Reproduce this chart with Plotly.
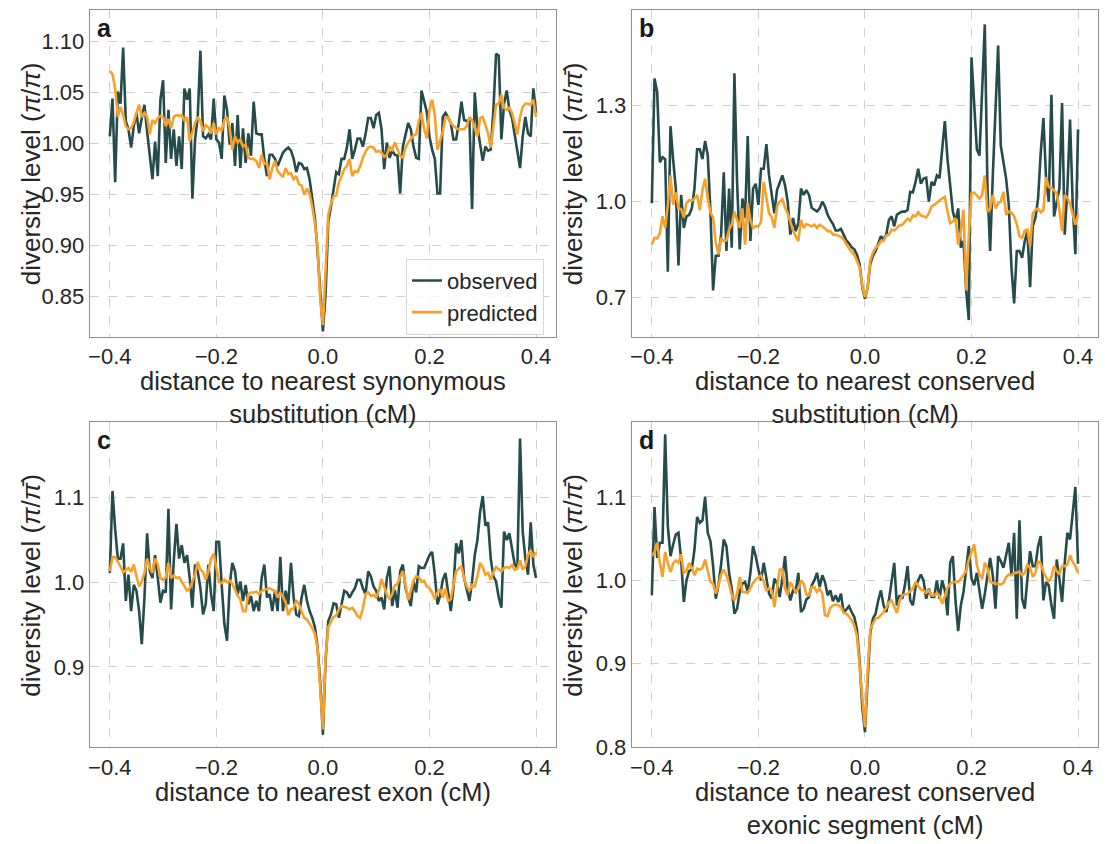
import numpy as np
import plotly.graph_objects as go

# distance grid (cM), 0.005 cM bins from -0.4 to 0.4
dist = np.round(np.linspace(-0.4, 0.4, 161), 4)

# a: synonymous substitutions
obs_a = [
    1.007, 1.044, 0.962, 1.051, 1.039, 1.094, 1.022, 1.014, 0.996, 1.017,
    1.030, 1.010, 1.025, 1.038, 1.012, 0.985, 0.965, 1.002, 0.968, 1.043,
    1.062, 0.981, 1.033, 0.985, 1.014, 0.978, 1.007, 0.975, 1.054, 1.043,
    1.054, 0.946, 1.004, 1.026, 1.091, 1.007, 1.005, 1.009, 1.004, 1.044,
    1.004, 1.001, 0.985, 1.047, 1.033, 0.999, 1.020, 0.978, 1.028, 0.976,
    1.015, 0.981, 1.010, 0.988, 1.041, 1.010, 1.009, 1.009, 0.985, 0.968,
    0.989, 0.989, 0.985, 0.978, 0.985, 0.991, 0.994, 0.996, 0.993, 0.985,
    0.972, 0.981, 0.980, 0.975, 0.976, 0.965, 0.946, 0.927, 0.894, 0.853,
    0.816,
    0.853, 0.923, 0.938, 0.956, 0.972, 0.970, 0.985, 0.985, 0.996, 1.014,
    0.985, 0.994, 1.005, 1.005, 0.997, 1.009, 1.025, 1.025, 1.015, 1.028,
    1.030, 1.014, 0.975, 1.001, 0.986, 0.993, 0.989, 0.988, 0.951, 0.997,
    1.009, 1.020, 1.014, 0.997, 0.986, 0.985, 1.052, 1.041, 1.031, 1.007,
    0.994, 0.985, 0.951, 0.951, 1.026, 1.030, 1.026, 1.020, 1.004, 1.004,
    1.020, 1.041, 1.023, 1.022, 1.023, 0.936, 1.050, 1.016, 1.001, 0.983,
    0.997, 0.993, 0.994, 1.033, 1.088, 1.086, 1.004, 1.039, 1.052, 1.033,
    1.025, 1.007, 0.994, 0.976, 1.007, 1.026, 1.010, 1.007, 1.054, 1.030,
]
pred_a = [
    1.071, 1.068, 1.054, 1.026, 1.036, 1.028, 1.017, 1.014, 1.015, 1.021,
    1.030, 1.038, 1.026, 1.030, 1.026, 1.009, 1.023, 1.020, 1.025, 1.027,
    1.026, 1.017, 1.024, 1.015, 1.026, 1.028, 1.027, 1.028, 1.022, 1.026,
    1.002, 1.012, 1.020, 1.026, 1.022, 1.012, 1.018, 1.016, 1.010, 1.020,
    1.009, 1.016, 1.012, 1.023, 1.026, 1.015, 0.994, 1.007, 1.001, 1.004,
    0.997, 0.999, 0.986, 0.985, 0.985, 0.983, 0.976, 0.989, 0.980, 0.981,
    0.965, 0.976, 0.983, 0.973, 0.970, 0.967, 0.976, 0.970, 0.971, 0.965,
    0.968, 0.960, 0.959, 0.950, 0.956, 0.951, 0.938, 0.922, 0.898, 0.846,
    0.822,
    0.872, 0.930, 0.941, 0.948, 0.949, 0.962, 0.968, 0.975, 0.978, 0.985,
    0.968, 0.973, 0.972, 0.978, 0.986, 0.992, 0.996, 0.997, 0.996, 0.992,
    0.993, 0.991, 0.987, 0.989, 0.997, 0.994, 1.001, 0.994, 0.988, 0.986,
    0.996, 1.001, 1.005, 1.008, 1.009, 1.022, 1.030, 1.014, 1.005, 1.033,
    1.043, 1.028, 0.994, 1.002, 1.012, 1.025, 1.026, 1.020, 1.017, 1.015,
    1.014, 1.014, 1.014, 1.017, 1.026, 1.023, 1.014, 1.007, 1.025, 1.026,
    1.018, 1.010, 0.996, 1.017, 1.038, 1.039, 1.048, 1.035, 1.033, 1.035,
    1.030, 1.020, 1.009, 1.026, 1.036, 1.039, 1.039, 1.038, 1.043, 1.026,
]

# b: conserved substitutions
obs_b = [
    0.994, 1.384, 1.343, 1.122, 1.138, 1.132, 0.780, 1.235, 1.130, 1.040,
    0.800, 1.020, 0.917, 0.953, 0.958, 0.978, 1.040, 1.163, 1.163, 1.132,
    1.189, 1.143, 0.968, 0.722, 0.830, 0.830, 0.896, 1.091, 0.845, 1.040,
    0.855, 1.400, 1.060, 0.850, 1.009, 0.948, 1.204, 0.876, 1.040, 1.055,
    0.989, 1.102, 1.102, 1.179, 1.081, 1.025, 0.963, 1.035, 1.061, 1.081,
    1.050, 0.999, 0.896, 0.948, 0.907, 0.932, 1.040, 1.020, 1.035, 1.020,
    0.980, 0.973, 0.968, 0.978, 0.999, 0.984, 0.958, 0.942, 0.929, 0.909,
    0.909, 0.914, 0.896, 0.878, 0.869, 0.857, 0.850, 0.833, 0.804, 0.732,
    0.696,
    0.730, 0.804, 0.830, 0.845, 0.871, 0.891, 0.881, 0.896, 0.942, 0.953,
    0.922, 0.958, 0.964, 0.968, 0.968, 0.973, 1.030, 1.028, 1.061, 1.102,
    1.055, 1.071, 1.074, 0.999, 1.061, 1.050, 1.081, 1.073, 1.163, 1.251,
    1.132, 1.045, 0.968, 0.937, 0.978, 0.855, 0.876, 0.722, 0.629, 1.450,
    1.307, 1.163, 1.143, 1.328, 1.553, 1.040, 0.845, 1.081, 1.307, 1.487,
    1.174, 1.122, 1.071, 0.989, 0.794, 0.681, 0.845, 0.845, 0.824, 0.876,
    0.907, 0.732, 0.922, 0.948, 1.009, 1.153, 1.260, 1.071, 0.999, 1.333,
    0.953, 0.999, 1.040, 1.307, 0.896, 1.040, 1.256, 0.989, 0.835, 1.225,
]
pred_b = [
    0.865, 0.886, 0.884, 0.901, 0.953, 0.917, 0.989, 1.081, 0.989, 1.028,
    0.978, 0.976, 0.950, 0.994, 1.004, 1.001, 1.009, 1.020, 0.973, 1.035,
    1.071, 1.009, 0.966, 0.950, 0.871, 0.835, 0.886, 0.876, 0.878, 0.912,
    0.927, 0.968, 0.942, 0.917, 0.978, 0.865, 0.994, 0.942, 0.917, 0.922,
    0.922, 0.937, 1.061, 1.004, 0.963, 0.950, 0.917, 0.984, 0.999, 1.007,
    0.980, 0.963, 0.932, 0.909, 0.891, 0.876, 0.942, 0.917, 0.929, 0.925,
    0.922, 0.927, 0.917, 0.927, 0.922, 0.915, 0.907, 0.907, 0.896, 0.896,
    0.893, 0.889, 0.881, 0.865, 0.853, 0.843, 0.833, 0.814, 0.794, 0.737,
    0.701,
    0.732, 0.814, 0.840, 0.855, 0.862, 0.876, 0.876, 0.893, 0.896, 0.912,
    0.909, 0.917, 0.925, 0.927, 0.937, 0.946, 0.940, 0.956, 0.953, 0.966,
    0.956, 0.953, 0.950, 0.963, 0.984, 0.989, 0.997, 1.003, 1.009, 1.014,
    0.968, 0.932, 0.937, 0.948, 0.865, 0.907, 0.973, 0.722, 0.896, 1.025,
    1.028, 1.020, 1.009, 1.020, 1.081, 0.968, 0.976, 1.020, 0.978, 0.994,
    0.999, 1.030, 0.958, 0.968, 0.965, 0.953, 0.929, 0.891, 0.886, 0.909,
    0.912, 0.860, 0.962, 0.973, 0.978, 0.966, 0.973, 1.076, 1.045, 1.042,
    1.035, 1.025, 0.973, 0.907, 1.020, 1.011, 0.991, 0.960, 0.927, 0.958,
]

# c: exons
obs_c = [
    1.011, 1.108, 1.063, 1.028, 1.028, 1.046, 0.978, 1.009, 0.966, 0.997,
    0.990, 0.966, 0.927, 0.982, 1.058, 1.013, 1.005, 1.032, 1.005, 0.976,
    0.990, 0.988, 1.087, 0.968, 1.025, 1.069, 1.028, 1.044, 1.023, 1.032,
    1.005, 0.970, 1.021, 1.013, 0.993, 0.962, 0.974, 1.021, 0.986, 0.966,
    1.048, 1.048, 0.997, 0.951, 0.931, 0.997, 1.023, 1.013, 0.986, 1.001,
    0.978, 0.997, 0.974, 0.984, 0.966, 0.978, 0.966, 1.005, 1.021, 0.982,
    0.986, 0.966, 0.990, 0.966, 1.030, 0.966, 0.990, 0.974, 1.023, 0.982,
    0.962, 0.960, 0.982, 0.997, 0.978, 0.966, 0.958, 0.947, 0.923, 0.881,
    0.820,
    0.908, 0.954, 0.962, 0.975, 0.974, 0.958, 0.974, 0.990, 0.988, 0.982,
    0.988, 0.993, 1.003, 1.003, 0.993, 0.986, 1.013, 1.007, 0.995, 0.990,
    0.978, 0.982, 0.968, 1.005, 1.019, 0.972, 0.991, 0.970, 1.013, 1.021,
    0.993, 0.982, 0.972, 1.001, 0.988, 1.019, 1.017, 1.017, 1.025, 1.032,
    1.036, 1.009, 0.974, 0.984, 1.003, 1.011, 0.988, 0.966, 0.993, 1.046,
    1.034, 1.050, 1.005, 0.993, 0.978, 1.001, 1.032, 1.050, 1.083, 1.102,
    1.067, 1.071, 1.028, 1.007, 1.001, 0.982, 0.970, 1.060, 1.050, 1.058,
    1.038, 1.021, 1.017, 1.170, 1.060, 1.028, 1.009, 1.071, 1.021, 1.005,
]
pred_c = [
    1.013, 1.030, 1.030, 1.025, 1.019, 1.012, 1.015, 1.017, 1.012, 1.021,
    1.007, 0.995, 1.001, 1.011, 1.028, 1.017, 1.011, 1.028, 1.021, 1.005,
    1.003, 1.006, 1.023, 1.005, 1.008, 1.005, 1.006, 1.001, 0.995, 0.990,
    0.993, 1.002, 1.009, 1.024, 1.015, 1.012, 1.003, 1.013, 1.028, 1.034,
    1.017, 1.000, 0.999, 1.003, 1.000, 1.002, 0.998, 0.990, 0.984, 0.980,
    0.966, 0.966, 0.986, 0.988, 0.988, 0.989, 0.986, 0.990, 0.991, 0.992,
    0.993, 0.991, 0.990, 0.982, 0.988, 0.983, 0.976, 0.961, 0.968, 0.969,
    0.979, 0.974, 0.966, 0.958, 0.956, 0.951, 0.946, 0.939, 0.921, 0.873,
    0.826,
    0.912, 0.947, 0.953, 0.959, 0.961, 0.968, 0.972, 0.971, 0.970, 0.968,
    0.970, 0.966, 0.960, 0.958, 0.969, 0.986, 0.988, 0.984, 0.985, 0.982,
    0.990, 1.004, 0.995, 0.986, 0.980, 0.986, 0.996, 0.998, 1.007, 1.013,
    0.997, 0.979, 0.990, 1.002, 1.007, 1.006, 1.001, 1.002, 0.995, 0.993,
    0.988, 0.980, 0.988, 0.992, 0.982, 0.993, 0.978, 0.980, 0.997, 1.013,
    1.016, 1.019, 1.005, 0.995, 0.990, 0.997, 0.995, 1.007, 1.023, 1.018,
    1.009, 1.011, 1.003, 1.012, 1.018, 1.015, 1.013, 1.017, 1.018, 1.017,
    1.020, 1.015, 1.016, 1.026, 1.015, 1.019, 1.032, 1.038, 1.030, 1.036,
]

# d: conserved exonic segments
obs_d = [
    0.982, 1.088, 1.027, 1.045, 1.045, 1.175, 1.065, 1.029, 1.043, 1.055,
    1.057, 1.025, 0.974, 1.000, 1.011, 1.013, 1.037, 1.076, 1.069, 1.072,
    1.100, 1.057, 1.047, 1.017, 0.978, 0.994, 1.019, 1.049, 1.041, 1.009,
    0.990, 0.960, 0.966, 0.986, 0.996, 0.998, 0.986, 1.009, 1.041, 1.029,
    1.013, 1.000, 1.021, 1.002, 0.984, 0.978, 1.002, 0.996, 0.980, 1.002,
    1.029, 0.990, 0.976, 0.988, 0.986, 1.009, 0.962, 0.966, 0.977, 0.980,
    0.994, 1.000, 1.009, 0.992, 1.006, 0.998, 0.982, 0.988, 0.975, 0.982,
    0.974, 0.984, 0.961, 0.965, 0.969, 0.962, 0.956, 0.941, 0.903, 0.848,
    0.818,
    0.879, 0.937, 0.954, 0.960, 0.976, 0.988, 0.970, 0.962, 0.976, 1.002,
    1.021, 0.970, 0.982, 0.978, 0.994, 1.017, 0.976, 0.970, 0.992, 1.000,
    1.007, 1.000, 0.978, 0.990, 0.980, 0.980, 1.000, 0.978, 1.000, 0.988,
    0.958, 1.021, 1.029, 0.976, 0.939, 0.970, 0.986, 1.013, 1.041, 1.002,
    0.994, 1.009, 0.990, 0.966, 0.984, 1.004, 1.027, 1.006, 0.966, 1.029,
    1.023, 1.015, 1.029, 1.045, 1.006, 1.057, 0.954, 1.072, 0.978, 0.966,
    1.002, 1.035, 1.017, 1.017, 1.041, 1.053, 0.976, 0.998, 0.994, 0.970,
    0.954, 1.025, 1.002, 0.974, 1.021, 1.057, 1.049, 1.084, 1.112, 1.020,
]
pred_d = [
    1.029, 1.034, 1.045, 1.021, 1.004, 1.034, 1.021, 1.010, 1.020, 1.024,
    1.021, 1.031, 1.009, 1.011, 1.021, 1.015, 1.006, 1.014, 1.013, 1.015,
    1.025, 1.011, 0.998, 0.996, 0.984, 0.994, 1.007, 1.013, 1.006, 0.996,
    0.982, 0.976, 0.984, 1.004, 0.986, 0.986, 0.985, 0.991, 0.997, 1.001,
    1.004, 1.006, 0.998, 0.987, 0.991, 0.988, 0.968, 0.988, 1.013, 1.013,
    0.990, 0.982, 0.998, 0.992, 0.986, 0.990, 1.000, 0.996, 0.983, 0.982,
    0.992, 0.992, 0.986, 0.990, 0.984, 0.958, 0.957, 0.967, 0.970, 0.971,
    0.970, 0.968, 0.961, 0.960, 0.957, 0.952, 0.946, 0.933, 0.895, 0.852,
    0.824,
    0.891, 0.941, 0.948, 0.954, 0.955, 0.958, 0.962, 0.967, 0.974, 0.976,
    0.969, 0.961, 0.976, 0.982, 0.983, 0.984, 0.987, 0.990, 0.998, 0.994,
    0.989, 0.988, 0.985, 0.988, 0.982, 0.982, 0.985, 0.981, 0.972, 0.981,
    0.991, 0.996, 0.998, 0.998, 0.998, 1.002, 1.006, 1.011, 1.025, 1.035,
    1.043, 1.019, 1.007, 1.002, 1.021, 1.015, 0.998, 0.997, 0.996, 0.996,
    0.995, 0.997, 1.004, 1.007, 1.006, 1.009, 1.009, 1.011, 1.006, 1.009,
    1.019, 1.015, 1.004, 1.009, 1.023, 1.020, 1.010, 1.004, 0.998, 1.004,
    1.017, 1.011, 1.007, 1.017, 1.017, 1.019, 1.030, 1.022, 1.017, 1.009,
]

x_ticks = [-0.4, -0.2, 0.0, 0.2, 0.4]
y_ticks_a = [0.85, 0.90, 0.95, 1.00, 1.05, 1.10]
y_ticks_b = [0.7, 1.0, 1.3]
y_ticks_c = [0.9, 1.0, 1.1]
y_ticks_d = [0.8, 0.9, 1.0, 1.1]

x_titles = [
    "distance to nearest synonymous<br>substitution (cM)",
    "distance to nearest conserved<br>substitution (cM)",
    "distance to nearest exon (cM)",
    "distance to nearest conserved<br>exonic segment (cM)",
]
y_titles = [
    "diversity level (<i>π</i>/<i>π</i>)",
    "diversity level (<i>π</i>/<i>π̄</i>)",
    "diversity level (<i>π</i>/<i>π̄</i>)",
    "diversity level (<i>π</i>/<i>π̄</i>)",
]
panel_letters = ["a", "b", "c", "d"]

OBS_COLOR = "#264b4b"
PRED_COLOR = "#f7a02a"
FONT = "Liberation Sans, Arial, sans-serif"
TEXT = "#262626"
W, H = 1107, 844

# plot-area boxes in pixels: (left, right, top, bottom)
boxes = [(88, 555, 10, 342), (631, 1098, 10, 342),
         (88, 555, 429, 759), (631, 1098, 429, 759)]
y_ranges = [[0.8107, 1.131], [0.577, 1.5985], [0.805, 1.189], [0.7998, 1.1894]]
y_ticks = [y_ticks_a, y_ticks_b, y_ticks_c, y_ticks_d]
y_formats = [".2f", ".1f", ".1f", ".1f"]
series = [(obs_a, pred_a), (obs_b, pred_b), (obs_c, pred_c), (obs_d, pred_d)]

fig = go.Figure()
layout = dict(
    width=W, height=H, margin=dict(l=0, r=0, t=0, b=0),
    paper_bgcolor="white", plot_bgcolor="white",
    font=dict(family=FONT, size=22, color=TEXT),
    showlegend=True,
)
annotations = []

for i, ((obs, pred), (l, r, t, b)) in enumerate(zip(series, boxes)):
    n = "" if i == 0 else str(i + 1)
    xa, ya = "x" + n, "y" + n
    fig.add_trace(go.Scatter(x=dist, y=obs, mode="lines", name="observed",
                             line=dict(color=OBS_COLOR, width=2.6),
                             xaxis=xa, yaxis=ya, showlegend=(i == 0)))
    fig.add_trace(go.Scatter(x=dist, y=pred, mode="lines", name="predicted",
                             line=dict(color=PRED_COLOR, width=2.6),
                             xaxis=xa, yaxis=ya, showlegend=(i == 0)))
    common = dict(showgrid=True, gridcolor="#cfcfcf", griddash="dash", gridwidth=1,
                  showline=True, linecolor="#8f8f8f", linewidth=1.3, mirror=True,
                  zeroline=False, ticks="", tickfont=dict(size=22, color=TEXT))
    layout["xaxis" + n] = dict(
        domain=[l / W, r / W], anchor=ya, range=[-0.4375, 0.4375],
        tickvals=x_ticks, tickformat=".1f", **common)
    layout["yaxis" + n] = dict(
        domain=[1 - b / H, 1 - t / H], anchor=xa, range=y_ranges[i],
        tickvals=y_ticks[i], tickformat=y_formats[i], **common)
    # x-axis title
    annotations.append(dict(
        text=x_titles[i], xref="paper", yref="paper",
        x=(l + r) / 2 / W, y=1 - (b + 29) / H, xanchor="center", yanchor="top",
        showarrow=False, font=dict(size=25.5, color=TEXT), align="center"))
    # y-axis title
    annotations.append(dict(
        text=y_titles[i], xref="paper", yref="paper",
        x=(l - 59) / W, y=1 - (t + b) / 2 / H, xanchor="center", yanchor="middle",
        textangle=-90, showarrow=False, font=dict(size=26, color=TEXT)))
    # panel letter
    annotations.append(dict(
        text="<b>" + panel_letters[i] + "</b>", xref="paper", yref="paper",
        x=(l + 5) / W, y=1 - (t + 2) / H, xanchor="left", yanchor="top",
        showarrow=False, font=dict(size=25, color="#1a1a1a")))

layout["annotations"] = annotations
layout["legend"] = dict(
    x=543 / W, y=1 - 340 / H, xanchor="right", yanchor="bottom",
    bgcolor="rgba(255,255,255,0.85)", bordercolor="#d6d6d6", borderwidth=1,
    font=dict(size=22, color=TEXT), tracegroupgap=0)
fig.update_layout(**layout)

fig.write_html("out.html")
